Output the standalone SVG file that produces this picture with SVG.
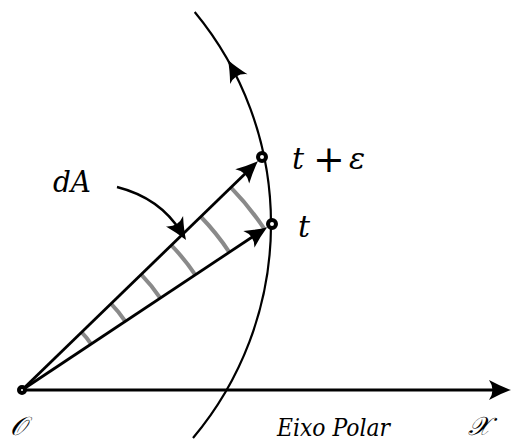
<svg xmlns="http://www.w3.org/2000/svg" width="512" height="446" viewBox="0 0 512 446">
<style>
.ln{fill:none;stroke:#000;stroke-linecap:butt}
.gr{fill:none;stroke:#8a8a8a;stroke-width:4}
.pt{fill:#fff;stroke:#000;stroke-width:4}
text{font-family:'DejaVu Serif',serif;font-style:italic;fill:#000}
.up{font-style:normal}
</style>
<defs>
<path id="ah" d="M0,0 Q-10,-3.5 -22,-10 Q-15,0 -22,10 Q-10,3.5 0,0 Z" fill="#000"/>
</defs>
<g id="hatching">
<path class="gr" d="M81.5,332.2 A83,83 0 0 1 91.1,344.1"/>
<path class="gr" d="M111,303.6 A124,124 0 0 1 125.3,321.4"/>
<path class="gr" d="M141.1,274.3 A166,166 0 0 1 160.3,298.2"/>
<path class="gr" d="M171.2,245.1 A208,208 0 0 1 195.3,274.9"/>
<path class="gr" d="M200.6,216.5 A249,249 0 0 1 229.4,252.3"/>
<path class="gr" d="M230.8,187.3 A291,291 0 0 1 264.4,229"/>
</g>
<g id="connectors">
<path class="ln" stroke-width="2.2" d="M193,438 A332.6,332.6 0 0 0 194.7,12"/>
<use href="#ah" transform="translate(228,60) rotate(-119.5)"/>
<path class="ln" stroke-width="3" d="M22,390 L500,390"/>
<use href="#ah" transform="translate(511,390)"/>
<path class="ln" stroke-width="2.8" d="M22,390 L251,168"/>
<use href="#ah" transform="translate(258,161) rotate(-44.15)"/>
<path class="ln" stroke-width="2.8" d="M22,390 L259,232.5"/>
<use href="#ah" transform="translate(267.2,227.2) rotate(-33.58)"/>
<path class="ln" stroke-width="2.4" d="M117,187 Q160,198 181,232"/>
<use href="#ah" transform="translate(186,240) rotate(58.6)"/>
</g>
<g id="origin">
<circle class="pt" cx="22" cy="390" r="3"/>
<text x="10" y="435" font-size="26">𝒪</text>
</g>
<g id="point-t-eps">
<circle class="pt" cx="262" cy="157" r="4"/>
<text x="292" y="169" font-size="30">t</text>
<text class="up" x="313" y="172" font-size="38">+</text>
<text x="349" y="169" font-size="30">ε</text>
</g>
<g id="point-t">
<circle class="pt" cx="272" cy="224" r="4"/>
<text x="298" y="237" font-size="30">t</text>
</g>
<g id="label-dA">
<text x="53" y="192" font-size="29" textLength="38" lengthAdjust="spacingAndGlyphs">dA</text>
</g>
<g id="label-axis">
<text x="277" y="436" font-size="25" textLength="113" lengthAdjust="spacingAndGlyphs">Eixo Polar</text>
<text x="468" y="435" font-size="26">𝒳</text>
</g>
</svg>
